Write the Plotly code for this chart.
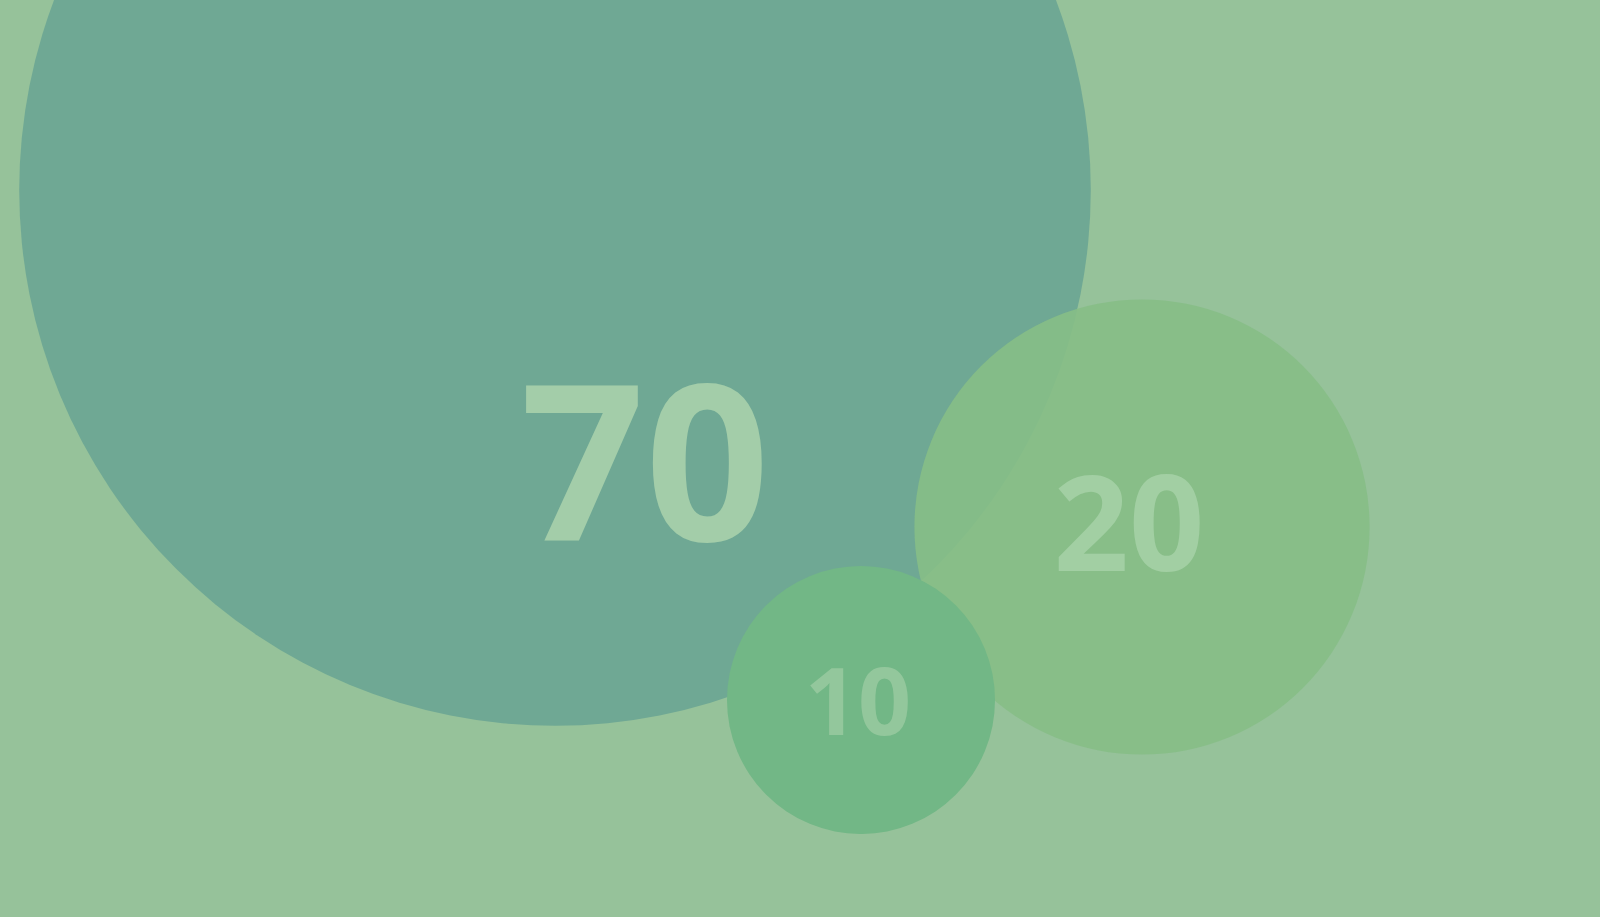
import plotly.graph_objects as go

# data
labels = ["70", "20", "10"]
values = [70, 20, 10]

# layout of the packed bubbles (pixel space of the plot area)
bubble_x = [555, 1142, 861]
bubble_y = [190, 527, 700]
label_x = [645, 1129, 858]
label_y = [463, 523, 702]

BG = "#96C29A"
FILLS = ["#6FA894", "#86BE86", "#72B786"]
OPAC = [1.0, 0.9, 1.0]
TEXT_COLORS = ["#A3CDA9", "#A2CFA3", "#93C79C"]
LABEL_FONT = [218, 132, 93]
W, H, PLOT_H = 1600, 917, 834


def diameter(v):
    # linear scale on v**0.6, as used by the bubble layout
    return 91.16 * v ** 0.6 - 94.9


fig = go.Figure()
for i, v in enumerate(values):
    fig.add_trace(go.Scatter(
        x=[bubble_x[i]], y=[bubble_y[i]],
        mode="markers",
        marker=dict(size=diameter(v), sizemode="diameter", color=FILLS[i],
                    opacity=OPAC[i], line=dict(width=0)),
        hoverinfo="skip", showlegend=False,
    ))

for i, v in enumerate(values):
    # digits sit above the baseline, so nudge the text box down to centre the glyphs
    fig.add_trace(go.Scatter(
        x=[label_x[i]], y=[label_y[i] + 0.11 * LABEL_FONT[i]],
        mode="text", text=[labels[i]], textposition="middle center",
        textfont=dict(family="Open Sans", size=LABEL_FONT[i], color=TEXT_COLORS[i], weight="bold"),
        hoverinfo="skip", showlegend=False,
    ))

fig.update_layout(
    width=W, height=H,
    margin=dict(l=0, r=0, t=0, b=H - PLOT_H),
    paper_bgcolor=BG, plot_bgcolor=BG,
    xaxis=dict(range=[0, W], visible=False, fixedrange=True),
    yaxis=dict(range=[PLOT_H, 0], visible=False, fixedrange=True),
)
fig.write_html("out.html", config={"displayModeBar": False},
               post_script="document.body.style.margin='0';document.body.style.background='%s';" % BG)
